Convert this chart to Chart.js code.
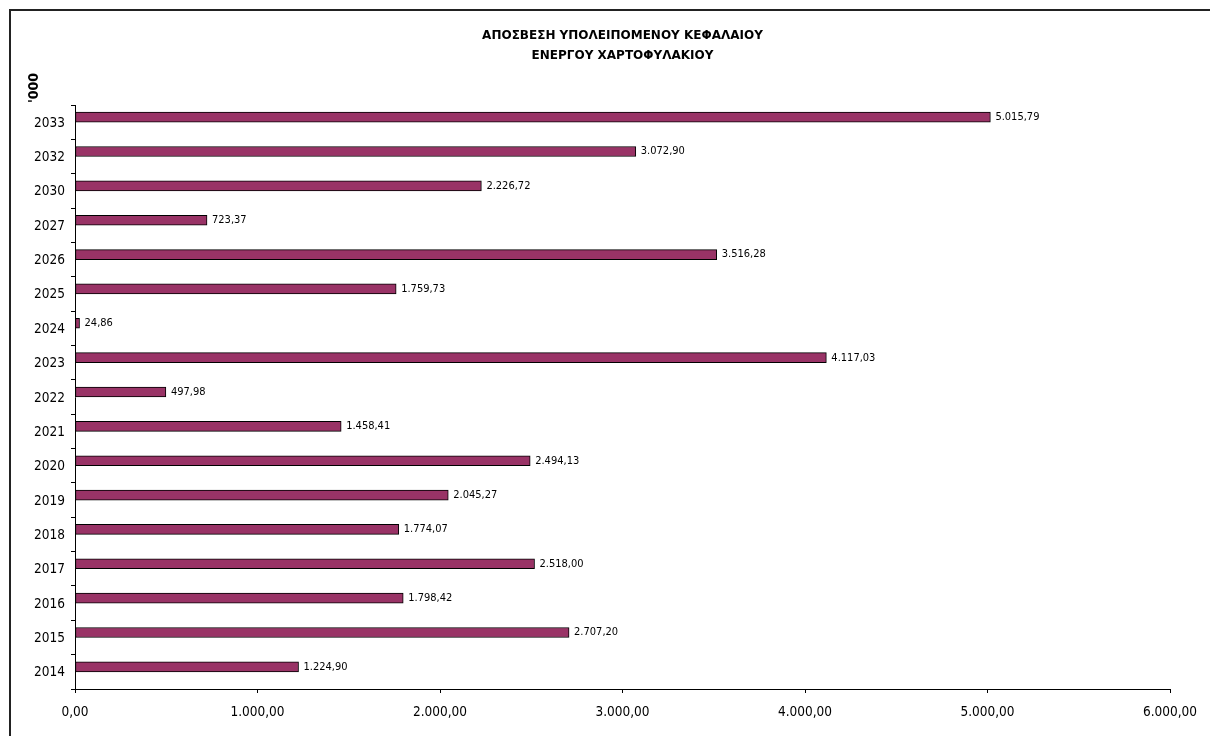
<!DOCTYPE html>
<html><head><meta charset="utf-8">
<script src="https://cdn.jsdelivr.net/npm/chart.js@4/dist/chart.umd.min.js"></script>
<style>
html,body{margin:0;padding:0;background:#fff;overflow:hidden;}
#c{display:block;}
</style></head><body>
<canvas id="c" width="1210" height="736"></canvas>
<script>
const categories = ['2033','2032','2030','2027','2026','2025','2024','2023','2022','2021','2020','2019','2018','2017','2016','2015','2014'];
const values = [5015.79,3072.90,2226.72,723.37,3516.28,1759.73,24.86,4117.03,497.98,1458.41,2494.13,2045.27,1774.07,2518.00,1798.42,2707.20,1224.90];
const titleLines = ['ΑΠΟΣΒΕΣΗ ΥΠΟΛΕΙΠΟΜΕΝΟΥ ΚΕΦΑΛΑΙΟΥ','ΕΝΕΡΓΟΥ ΧΑΡΤΟΦΥΛΑΚΙΟΥ'];
const unitText = "'000";
const xMin = 0, xMax = 6000, xStep = 1000;

function fmt(v){
  const parts = Number(v).toFixed(2).split('.');
  parts[0] = parts[0].replace(/\B(?=(\d{3})+(?!\d))/g,'.');
  return parts[0] + ',' + parts[1];
}

const frame = {
  id:'frame',
  beforeDraw(chart){
    const ctx = chart.ctx;
    ctx.save();
    ctx.fillStyle = '#222';
    ctx.fillRect(9, 9, 2, chart.height - 9);
    ctx.fillRect(9, 9, chart.width - 9, 2);
    ctx.restore();
  }
};

const valueLabels = {
  id:'valueLabels',
  afterDatasetsDraw(chart){
    const ctx = chart.ctx;
    const meta = chart.getDatasetMeta(0);
    ctx.save();
    ctx.font = '11px "DejaVu Sans Condensed"';
    ctx.fillStyle = '#000';
    ctx.textBaseline = 'middle';
    ctx.textAlign = 'left';
    meta.data.forEach((bar,i) => { ctx.fillText(fmt(values[i]), bar.x + 5, bar.y); });
    ctx.restore();
  }
};

const unitLabel = {
  id:'unitLabel',
  afterDraw(chart){
    const ctx = chart.ctx;
    ctx.save();
    ctx.translate(34, 88);
    ctx.rotate(-Math.PI/2);
    ctx.font = 'bold 14px "DejaVu Sans Condensed"';
    ctx.fillStyle = '#000';
    ctx.textAlign = 'center';
    ctx.textBaseline = 'middle';
    ctx.fillText(unitText, 0, 0);
    ctx.restore();
  }
};

new Chart(document.getElementById('c'), {
  type:'bar',
  data:{
    labels:categories,
    datasets:[
      {label:'value', data:values, backgroundColor:'#993366', borderColor:'#000', borderWidth:1, borderSkipped:false, barThickness:10},
      {label:'', data:[], barThickness:10}
    ]
  },
  options:{
    indexAxis:'y', responsive:false, animation:false, devicePixelRatio:1,
    layout:{padding:{left:0,right:40,top:0,bottom:0}},
    plugins:{
      legend:{display:false}, tooltip:{enabled:false},
      title:{display:true, text:titleLines, fullSize:false, color:'#000',
        font:{family:'DejaVu Sans', size:12, weight:'bold', lineHeight:'20px'},
        padding:{top:25.5,bottom:39.5}}
    },
    scales:{
      x:{min:xMin, max:xMax,
        ticks:{stepSize:xStep, callback:v=>fmt(v), color:'#000', font:{family:'DejaVu Sans Condensed', size:13.5}, padding:11, maxRotation:0},
        grid:{display:true, drawOnChartArea:false, drawTicks:true, tickLength:4, color:'#000'},
        border:{display:true, color:'#000', width:1},
        afterFit(s){ s.height = 47; }},
      y:{
        ticks:{color:'#000', font:{family:'DejaVu Sans Condensed', size:13.5}, padding:6, labelOffset:1},
        grid:{display:true, drawOnChartArea:false, drawTicks:true, tickLength:4, color:'#000', offset:true},
        border:{display:true, color:'#000', width:1},
        afterFit(s){ s.width = 75; }
      }
    }
  },
  plugins:[frame, valueLabels, unitLabel]
});
</script>
</body></html>
